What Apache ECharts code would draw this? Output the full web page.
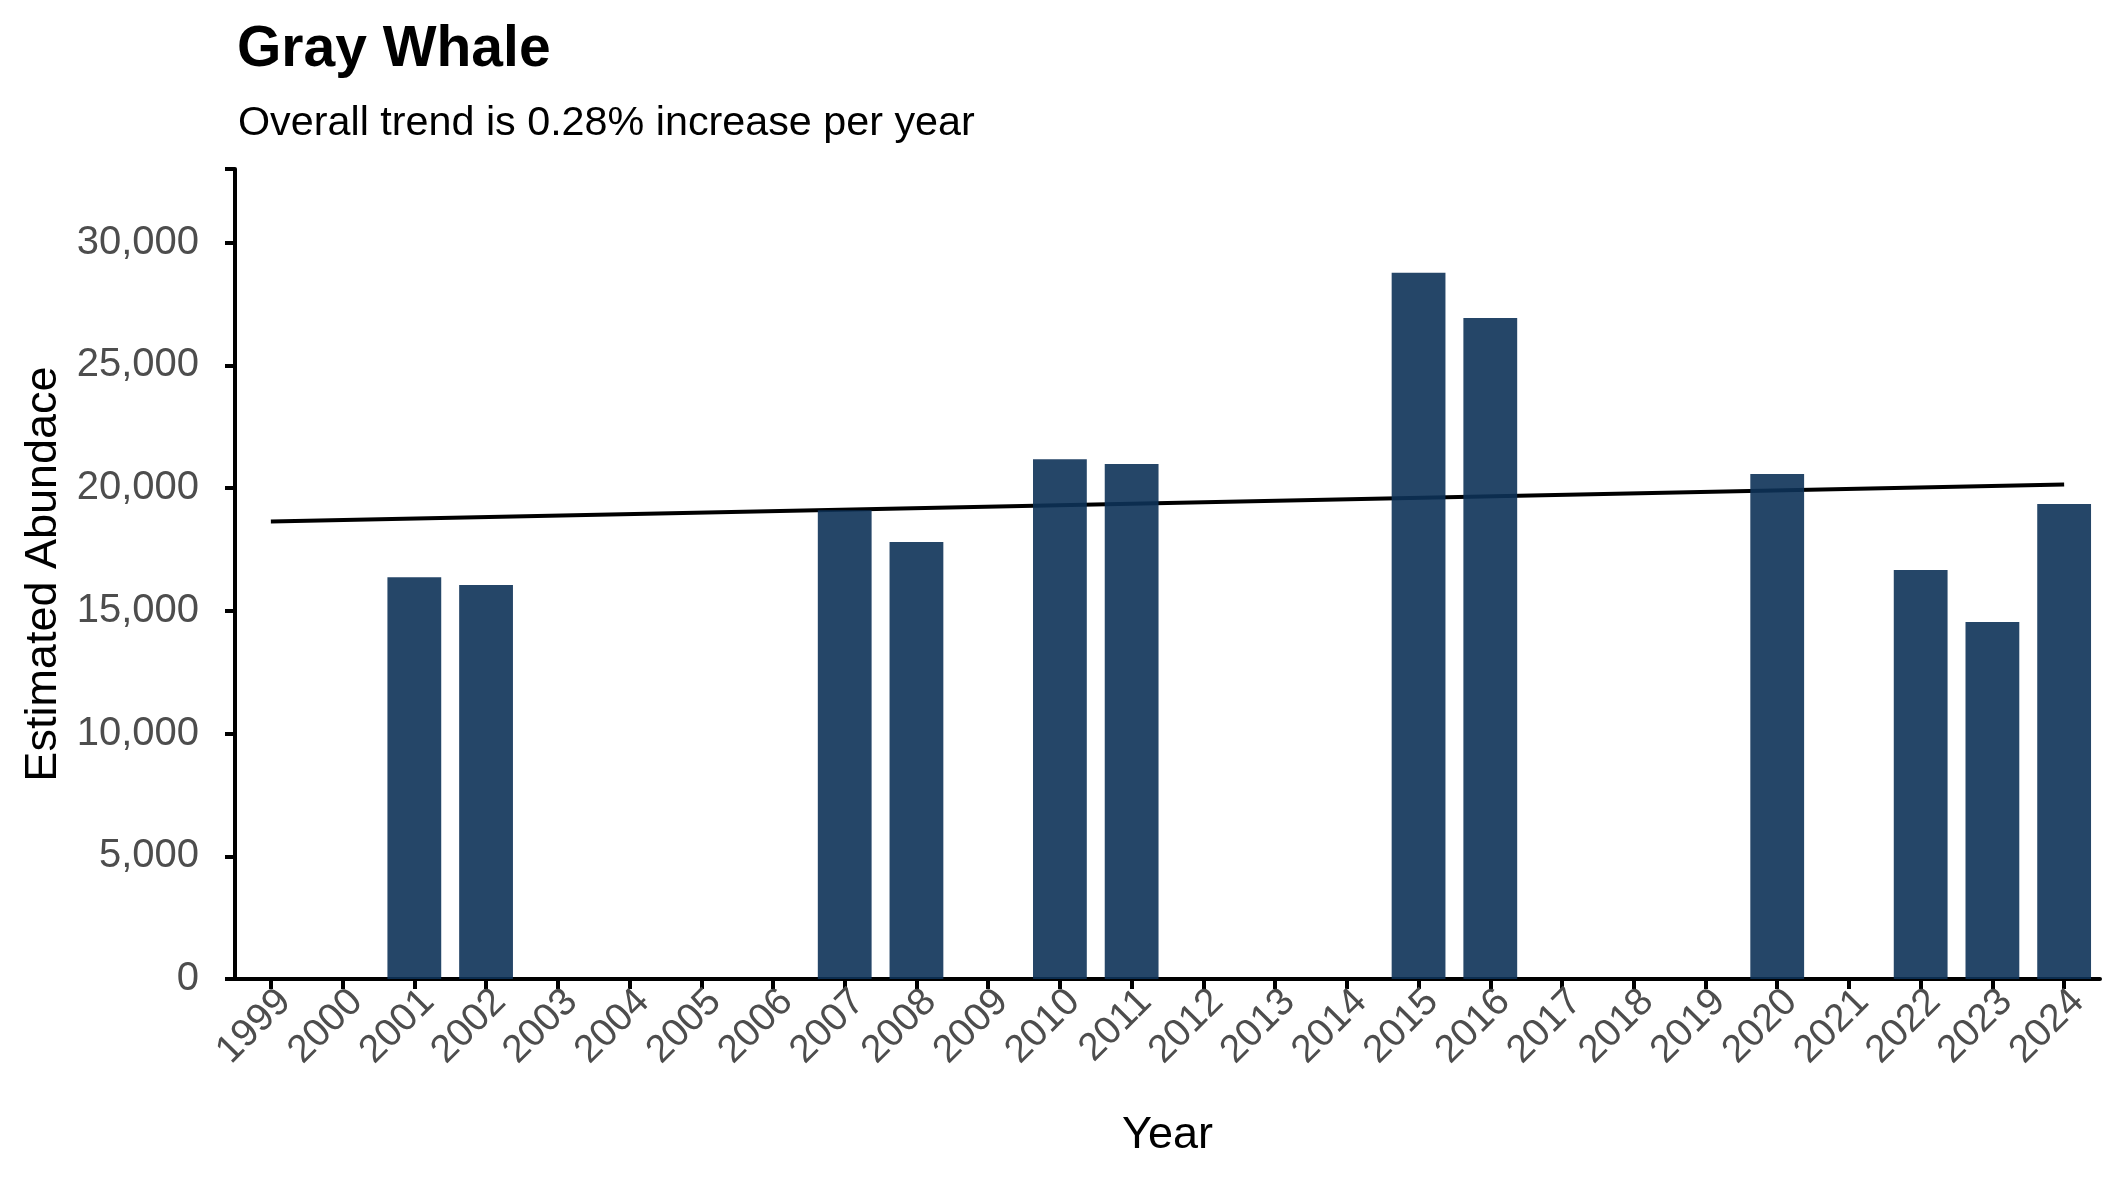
<!DOCTYPE html>
<html>
<head>
<meta charset="utf-8">
<script src="https://cdn.jsdelivr.net/npm/echarts@6/dist/echarts.min.js"></script>
<style>
html,body{margin:0;padding:0;background:#fff;}
#chart{width:2125px;height:1181px;}
</style>
</head>
<body>
<div id="chart"></div>
<script>
const years = ['1999','2000','2001','2002','2003','2004','2005','2006','2007','2008','2009','2010','2011','2012','2013','2014','2015','2016','2017','2018','2019','2020','2021','2022','2023','2024'];
const abundance = [null,null,16370,16050,null,null,null,null,19100,17800,null,21180,20980,null,null,null,28770,26930,null,null,null,20570,null,16660,14540,19350];
const trendYears = ['1999','2024'];
const trendValues = [18640,20150];
const yTicks = [0,5000,10000,15000,20000,25000,30000];

const font = 'Liberation Sans, Arial, sans-serif';
const chart = echarts.init(document.getElementById('chart'), null, {renderer:'canvas'});
chart.setOption({
  backgroundColor:'#ffffff',
  animation:false,
  title:[
    {text:'Gray Whale', left:232, top:17, textStyle:{fontFamily:font, fontSize:57, fontWeight:'bold', color:'#000'}},
    {text:'Overall trend is 0.28% increase per year', left:233, top:98, textStyle:{fontFamily:font, fontSize:41.3, fontWeight:'normal', color:'#000'}}
  ],
  grid:{left:235, right:25, top:169, bottom:202, containLabel:false},
  xAxis:{
    type:'category',
    data:years,
    boundaryGap:true,
    name:'Year',
    nameLocation:'middle',
    nameGap:134,
    nameTextStyle:{fontFamily:font, fontSize:45, color:'#000'},
    axisLine:{show:true, lineStyle:{color:'#000', width:4}},
    axisTick:{show:true, alignWithLabel:true, length:10, lineStyle:{color:'#000', width:4}},
    axisLabel:{interval:0, rotate:45, margin:3, verticalAlign:'top', fontFamily:font, fontSize:39, color:'#4d4d4d'},
    splitLine:{show:false}
  },
  yAxis:{
    type:'value',
    min:0, max:33000, interval:5000,
    name:'Estimated Abundace',
    nameLocation:'middle',
    nameGap:168,
    nameTextStyle:{fontFamily:font, fontSize:45, color:'#000'},
    axisLine:{show:true, lineStyle:{color:'#000', width:4}},
    axisTick:{show:true, length:10, lineStyle:{color:'#000', width:4}},
    axisLabel:{margin:36, fontFamily:font, fontSize:40, color:'#4d4d4d',
      formatter:function(v){return yTicks.indexOf(v)>=0 ? v.toLocaleString('en-US') : '';}},
    splitLine:{show:false}
  },
  series:[
    {
      type:'line',
      data:trendYears.map((y,i)=>[y,trendValues[i]]),
      symbol:'none',
      lineStyle:{color:'#000', width:4},
      z:2
    },
    {
      type:'bar',
      data:abundance,
      barWidth:'75%',
      itemStyle:{color:'rgba(13,50,88,0.9)'},
      z:3
    }
  ]
});
</script>
</body>
</html>
